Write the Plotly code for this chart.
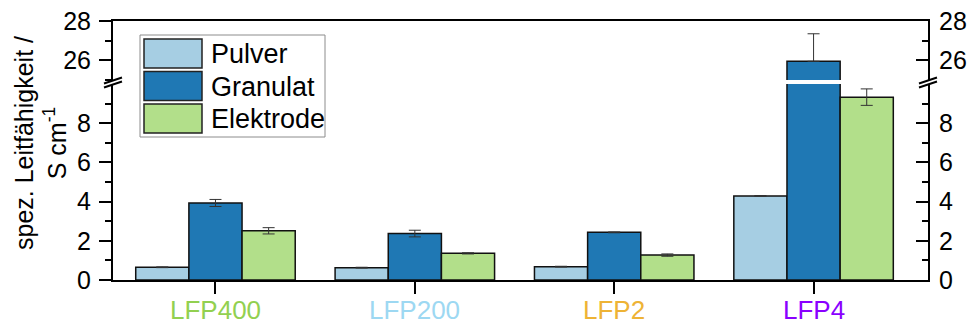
import plotly.graph_objects as go

# Samples and measured specific conductivity (S/cm) with standard deviations
categories = ["LFP400", "LFP200", "LFP2", "LFP4"]
category_colors = ["#92d050", "#9dd8f2", "#eeb335", "#8a00ff"]

series_names = ["Pulver", "Granulat", "Elektrode"]
series_colors = ["#a6cee3", "#1f78b4", "#b2df8a"]

pulver = [0.65, 0.63, 0.68, 4.29]
granulat = [3.93, 2.37, 2.43, 25.95]
elektrode = [2.51, 1.36, 1.27, 9.33]

pulver_err = [0.02, 0.02, 0.02, 0.02]
granulat_err = [0.18, 0.17, 0.02, 1.40]
elektrode_err = [0.16, 0.03, 0.06, 0.42]

values = [pulver, granulat, elektrode]
errors = [pulver_err, granulat_err, elektrode_err]

lower_range = [0, 10]
upper_range = [25, 28]

FONT = "Liberation Sans, Arial, sans-serif"
W, H = 969, 327
ML, MR, MT, MB = 113, 41, 21, 47
PW, PH = W - ML - MR, H - MT - MB


def px_x(px):
    return (px - ML) / PW


def px_y(py):
    return (H - MB - py) / PH


lower_top = px_y(84)
upper_bottom = px_y(80)

x = list(range(len(categories)))
fig = go.Figure()

for name, color, vals, errs in zip(series_names, series_colors, values, errors):
    common = dict(
        x=x, y=vals, name=name, marker=dict(color=color, line=dict(color="#111111", width=1.5)),
        showlegend=False, offsetgroup=name,
    )
    fig.add_trace(go.Bar(
        **common, xaxis="x", yaxis="y",
        error_y=dict(type="data", array=errs, color="#333333", thickness=1, width=6),
    ))
    fig.add_trace(go.Bar(
        **common, xaxis="x2", yaxis="y2",
        error_y=dict(type="data", symmetric=False, array=errs, arrayminus=[0] * len(errs),
                     color="#333333", thickness=1, width=6),
    ))

# right-hand axis copies carry the same bars invisibly so they are drawn
fig.add_trace(go.Bar(x=x, y=granulat, xaxis="x", yaxis="y3", opacity=0, showlegend=False,
                     hoverinfo="skip", offsetgroup="Granulat"))
fig.add_trace(go.Bar(x=x, y=granulat, xaxis="x2", yaxis="y4", opacity=0, showlegend=False,
                     hoverinfo="skip", offsetgroup="Granulat"))

xrange = [-0.514, 3.574]
tick_font = dict(family=FONT, size=25, color="#000000")

yaxis_common = dict(
    showgrid=False, zeroline=False, showline=True, linecolor="#000000", linewidth=2,
    tickfont=tick_font, tickwidth=2, tickcolor="#000000", automargin=False,
)

fig.update_layout(
    width=W, height=H,
    margin=dict(l=ML, r=MR, t=MT, b=MB, autoexpand=False),
    paper_bgcolor="white", plot_bgcolor="white",
    barmode="group", bargap=0.2, bargroupgap=0,
    xaxis=dict(
        domain=[0, 1], range=xrange, anchor="y", automargin=False,
        tickvals=x, showticklabels=False,
        ticks="outside", ticklen=12, tickwidth=2, tickcolor="#000000",
        showline=True, linecolor="#000000", linewidth=2, showgrid=False, zeroline=False,
    ),
    xaxis2=dict(
        domain=[0, 1], range=xrange, anchor="y2", matches="x", side="top", automargin=False,
        showticklabels=False, ticks="", showline=True, linecolor="#000000", linewidth=2,
        showgrid=False, zeroline=False,
    ),
    yaxis=dict(
        **yaxis_common, domain=[0, lower_top], range=lower_range, anchor="x",
        tickvals=[0, 2, 4, 6, 8], ticks="outside", ticklen=12, ticklabelstandoff=3,
        minor=dict(tickvals=[1, 3, 5, 7, 9], ticks="outside", ticklen=6, tickwidth=2,
                   tickcolor="#000000"),
    ),
    yaxis2=dict(
        **yaxis_common, domain=[upper_bottom, 1], range=upper_range, anchor="x2",
        tickvals=[26, 28], ticks="outside", ticklen=12, ticklabelstandoff=3,
        minor=dict(tickvals=[25, 27], ticks="outside", ticklen=6, tickwidth=2,
                   tickcolor="#000000"),
    ),
    yaxis3=dict(
        **yaxis_common, overlaying="y", side="right", anchor="x", range=lower_range,
        tickvals=[0, 2, 4, 6, 8], ticks="inside", ticklen=12, ticklabelstandoff=4,
        minor=dict(tickvals=[1, 3, 5, 7, 9], ticks="inside", ticklen=6, tickwidth=2,
                   tickcolor="#000000"),
    ),
    yaxis4=dict(
        **yaxis_common, overlaying="y2", side="right", anchor="x2", range=upper_range,
        tickvals=[26, 28], ticks="inside", ticklen=12, ticklabelstandoff=4,
        minor=dict(tickvals=[25, 27], ticks="inside", ticklen=6, tickwidth=2,
                   tickcolor="#000000"),
    ),
)

shapes = []
annotations = []

# category labels, each in its own colour
for xi, label, color in zip(x, categories, category_colors):
    annotations.append(dict(
        xref="x", yref="paper", x=xi, y=px_y(310), xanchor="center", yanchor="middle",
        text=label, showarrow=False, font=dict(family=FONT, size=26, color=color),
    ))

# axis break marks on both vertical axes
for ax_px in (ML, ML + PW):
    for py in (80.5, 84.5):
        shapes.append(dict(
            type="line", xref="paper", yref="paper",
            x0=px_x(ax_px - 9), y0=px_y(py + 3), x1=px_x(ax_px + 9), y1=px_y(py - 3),
            line=dict(color="#000000", width=2),
        ))

# legend with large swatches
shapes.append(dict(
    type="rect", xref="paper", yref="paper",
    x0=px_x(140), x1=px_x(325), y0=px_y(137), y1=px_y(35),
    line=dict(color="#8c8c8c", width=1), fillcolor="white", layer="above",
))
for i, (name, color) in enumerate(zip(series_names, series_colors)):
    top = 39 + i * 32.5
    shapes.append(dict(
        type="rect", xref="paper", yref="paper",
        x0=px_x(144), x1=px_x(202), y0=px_y(top + 29), y1=px_y(top),
        line=dict(color="#222222", width=1.5), fillcolor=color, layer="above",
    ))
    annotations.append(dict(
        xref="paper", yref="paper", x=px_x(209), y=px_y(top + 15),
        xanchor="left", yanchor="middle", text=name, showarrow=False,
        font=dict(family=FONT, size=27, color="#000000"),
    ))

# y-axis title
annotations.append(dict(
    xref="paper", yref="paper", x=px_x(40), y=px_y(143),
    xanchor="center", yanchor="middle", textangle=-90, showarrow=False,
    text="spez. Leitfähigkeit /<br>S cm<sup>-1</sup>",
    font=dict(family=FONT, size=25, color="#000000"),
))

fig.update_layout(shapes=shapes, annotations=annotations)

fig.write_html("out.html")
